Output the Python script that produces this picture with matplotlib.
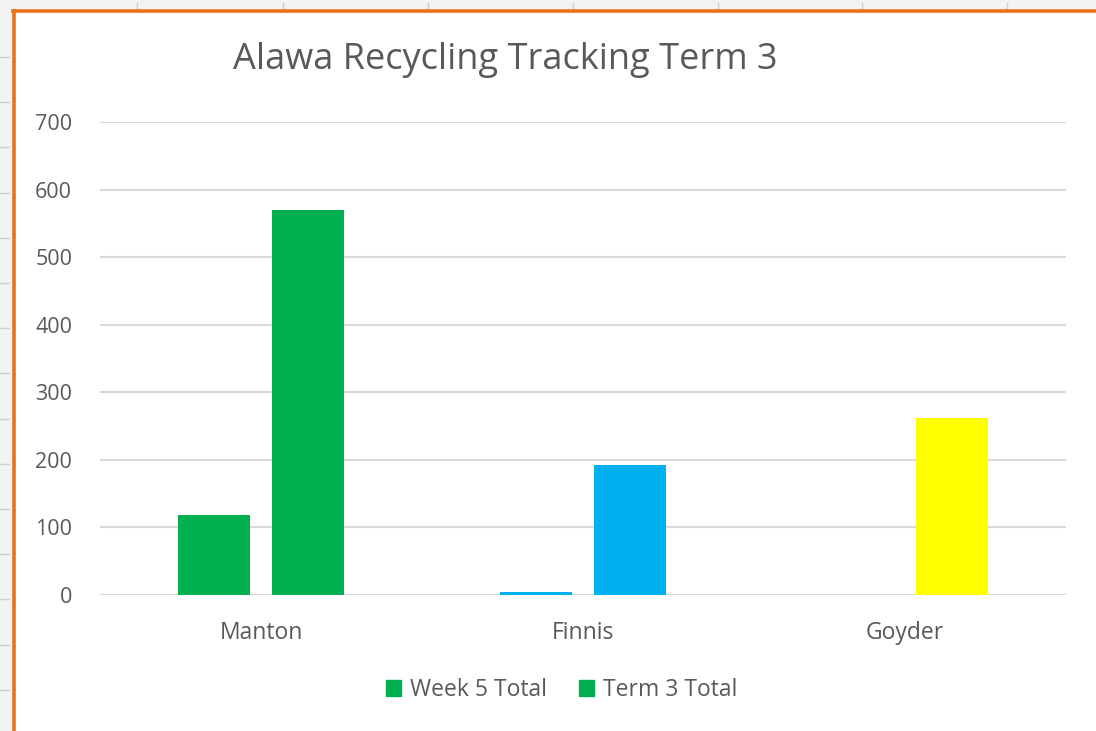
import matplotlib
matplotlib.use("Agg")
import matplotlib.pyplot as plt
from matplotlib.patches import Rectangle
from matplotlib.lines import Line2D
import numpy as np

plt.rcParams['font.family'] = ['Open Sans', 'DejaVu Sans']

categories = ["Manton", "Finnis", "Goyder"]
week5_total = [118, 5, 0]
term3_total = [570, 192, 262]
point_colors = ["#00B050", "#00B0F0", "#FFFF00"]
series_names = ["Week 5 Total", "Term 3 Total"]
yticks = [0, 100, 200, 300, 400, 500, 600, 700]
title = "Alawa Recycling Tracking Term 3"

W, H = 1096, 731
fig = plt.figure(figsize=(W / 100, H / 100), dpi=100)
fig.patch.set_facecolor("white")

# spreadsheet background outside chart border
fig.patches.append(Rectangle((0, 0), 13 / W, 1, transform=fig.transFigure,
                             facecolor="#f4f3f3", edgecolor="none", zorder=0))
fig.patches.append(Rectangle((0, 1 - 10 / H), 1, 10 / H, transform=fig.transFigure,
                             facecolor="#f4f3f3", edgecolor="none", zorder=0))
for yy in np.arange(57, 731, 45.2):
    fig.lines.append(Line2D([0, 9 / W], [1 - yy / H] * 2, transform=fig.transFigure,
                            color="#cfcfcf", lw=1, zorder=1))
for xx in [137, 283, 428, 573, 718, 862, 1007]:
    fig.lines.append(Line2D([xx / W] * 2, [1 - 3 / H, 1 - 9 / H], transform=fig.transFigure,
                            color="#cfcfcf", lw=1, zorder=1))
# orange selection border
fig.lines.append(Line2D([14 / W, 14 / W], [0, 1 - 10.5 / H], transform=fig.transFigure,
                        color="#E8731C", lw=2.6, zorder=2))
fig.lines.append(Line2D([13 / W, 1], [1 - 10.5 / H, 1 - 10.5 / H], transform=fig.transFigure,
                        color="#E8731C", lw=2.6, zorder=2))

ax = fig.add_axes([100 / W, 1 - 595 / H, 966 / W, (595 - 122) / H])
x = np.arange(len(categories))
bw = 0.224
off = 0.145
ax.bar(x - off, week5_total, width=bw, color=point_colors, zorder=3)
ax.bar(x + off, term3_total, width=bw, color=point_colors, zorder=3)

ax.set_xlim(-0.5, 2.5)
ax.set_ylim(0, 700)
ax.set_yticks(yticks)
ax.set_yticklabels([str(v) for v in yticks])
ax.set_xticks(x)
ax.set_xticklabels(categories)
ax.yaxis.grid(True, color="#d9d9d9", lw=1.5)
ax.set_axisbelow(True)
for s in ax.spines.values():
    s.set_visible(False)
ax.tick_params(axis="both", length=0, colors="#595959")
ax.tick_params(axis="y", pad=20, labelsize=15.5)
ax.tick_params(axis="x", pad=19, labelsize=16.5)
ax.axhline(0, color="#d9d9d9", lw=1.5, zorder=2)

fig.text(505 / W, 1 - 60 / H, title, ha="center", va="center",
         fontsize=26, color="#595959")

handles = [Rectangle((0, 0), 1, 1, color="#00B050"), Rectangle((0, 0), 1, 1, color="#00B050")]
fig.legend(handles, series_names, loc="center", bbox_to_anchor=(562 / W, 1 - 690 / H),
           ncol=2, frameon=False, fontsize=16.5, labelcolor="#595959",
           handlelength=0.65, handleheight=0.65, handletextpad=0.4, columnspacing=1.4)

fig.savefig("out.png", dpi=100)
